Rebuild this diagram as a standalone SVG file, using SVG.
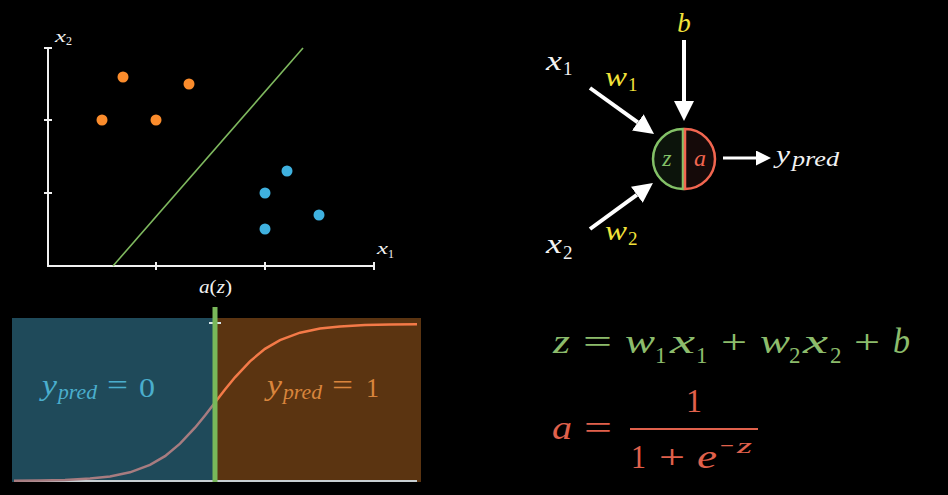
<svg xmlns="http://www.w3.org/2000/svg" width="948" height="495" viewBox="0 0 948 495">
<defs>
<style>
.m{font-family:"Liberation Serif","DejaVu Serif",serif;font-style:italic}
.r{font-family:"Liberation Serif","DejaVu Serif",serif;font-style:normal}
.ax{stroke:#f0f0f0;stroke-width:2;fill:none}
.arr{stroke:#ffffff;stroke-width:4;fill:none;marker-end:url(#ah)}
.org{fill:#fb8c2c}
.blu{fill:#3fb1df}
.yel{fill:#f2e23a}
.wht{fill:#f2f2f2}
</style>
<marker id="ah" viewBox="0 0 10 10" refX="0" refY="5" markerWidth="5" markerHeight="5" orient="auto" markerUnits="strokeWidth">
<path d="M0,0 L10,5 L0,10 z" fill="#ffffff"/>
</marker>
</defs>
<rect width="948" height="495" fill="#000000"/>

<!-- scatter plot -->
<g id="scatter">
<path class="ax" d="M48,48 V266 H374"/>
<path class="ax" d="M44,48 H52 M44,120 H52 M44,193 H52 M156,262 V270 M265,262 V270 M374,262 V270"/>
<text class="m wht" x="55" y="42" font-size="17" textLength="11" lengthAdjust="spacingAndGlyphs">x</text>
<text class="r wht" x="66" y="45" font-size="12">2</text>
<text class="m wht" x="377" y="254" font-size="17" textLength="11" lengthAdjust="spacingAndGlyphs">x</text>
<text class="r wht" x="388" y="258" font-size="12">1</text>
<line x1="113" y1="266" x2="303" y2="48" stroke="#7fb95f" stroke-width="1.6"/>
<circle class="org" cx="123" cy="77" r="5.5"/>
<circle class="org" cx="189" cy="84" r="5.5"/>
<circle class="org" cx="102" cy="120" r="5.5"/>
<circle class="org" cx="156" cy="120" r="5.5"/>
<circle class="blu" cx="287" cy="171" r="5.5"/>
<circle class="blu" cx="265" cy="193" r="5.5"/>
<circle class="blu" cx="319" cy="215" r="5.5"/>
<circle class="blu" cx="265" cy="229" r="5.5"/>
</g>

<!-- sigmoid plot -->
<g id="sigmoid">
<text class="m wht" x="199" y="293" font-size="19" textLength="33" lengthAdjust="spacingAndGlyphs">a<tspan class="r">(</tspan>z<tspan class="r">)</tspan></text>
<rect x="12" y="318" width="203" height="164" fill="#1f4a5a"/>
<rect x="215" y="318" width="206" height="164" fill="#5b3411"/>
<line x1="14" y1="481" x2="417" y2="481" stroke="#c8cfd2" stroke-width="2"/>
<path d="M14,480.8 L40,480.5 L65,479.9 L90,478.6 L110,476.4 L130,472.3 L150,464.9 L165,456.1 L180,443.7 L195,427.7 L205,415.5 L215,402.5" fill="none" stroke="#a77c80" stroke-width="2.5"/>
<path d="M215,402.5 L225,389.5 L235,377.3 L250,361.3 L265,348.9 L280,340.1 L300,332.7 L320,328.6 L340,326.4 L365,325.1 L390,324.5 L417,324.2" fill="none" stroke="#f47a48" stroke-width="2.5"/>
<line x1="209" y1="323" x2="221" y2="323" stroke="#d8e6ea" stroke-width="2"/>
<line x1="215" y1="307" x2="215" y2="482" stroke="#79b85a" stroke-width="5"/>
<g fill="#4aaecd">
<text class="m" x="42" y="395" font-size="29" textLength="15" lengthAdjust="spacingAndGlyphs">y</text>
<text class="m" x="58" y="399" font-size="21" textLength="39" lengthAdjust="spacingAndGlyphs">pred</text>
<text class="r" x="107" y="395" font-size="30" textLength="21" lengthAdjust="spacingAndGlyphs">=</text>
<text class="r" x="139" y="397" font-size="28" textLength="16" lengthAdjust="spacingAndGlyphs">0</text>
</g>
<g fill="#d9853c">
<text class="m" x="267" y="395" font-size="29" textLength="15" lengthAdjust="spacingAndGlyphs">y</text>
<text class="m" x="283" y="399" font-size="21" textLength="39" lengthAdjust="spacingAndGlyphs">pred</text>
<text class="r" x="332" y="395" font-size="30" textLength="21" lengthAdjust="spacingAndGlyphs">=</text>
<text class="r" x="366" y="397" font-size="28" textLength="13" lengthAdjust="spacingAndGlyphs">1</text>
</g>
</g>

<!-- neuron -->
<g id="neuron">
<path d="M683,129 A30,30 0 0 0 683,189 Z" fill="#0c140b" stroke="#83c167" stroke-width="2.5"/>
<path d="M685,129 A30,30 0 0 1 685,189 Z" fill="#150a09" stroke="#f26650" stroke-width="2.5"/>
<text class="m" x="667" y="166" font-size="24" fill="#83c167" text-anchor="middle">z</text>
<text class="m" x="700" y="166" font-size="24" fill="#f26650" text-anchor="middle">a</text>
</g>

<g id="labels">
<text class="m yel" x="684" y="32" font-size="27" text-anchor="middle">b</text>
<text class="m wht" x="546" y="70" font-size="28" textLength="16" lengthAdjust="spacingAndGlyphs">x</text>
<text class="r wht" x="563" y="75" font-size="19">1</text>
<text class="m yel" x="605" y="86" font-size="27" textLength="22" lengthAdjust="spacingAndGlyphs">w</text>
<text class="r yel" x="628" y="91" font-size="19">1</text>
<text class="m wht" x="546" y="253" font-size="28" textLength="16" lengthAdjust="spacingAndGlyphs">x</text>
<text class="r wht" x="563" y="259" font-size="19">2</text>
<text class="m yel" x="605" y="240" font-size="27" textLength="22" lengthAdjust="spacingAndGlyphs">w</text>
<text class="r yel" x="628" y="245" font-size="19">2</text>
<text class="m wht" x="776" y="163" font-size="26" textLength="14" lengthAdjust="spacingAndGlyphs">y</text>
<text class="m wht" x="792" y="166" font-size="20" textLength="47" lengthAdjust="spacingAndGlyphs">pred</text>
</g>

<g id="connectors">
<line class="arr" x1="590" y1="88" x2="637.8" y2="122.3"/>
<line class="arr" x1="684" y1="40" x2="684" y2="101"/>
<line class="arr" x1="590" y1="229" x2="636.8" y2="194.8"/>
<line class="arr" x1="723" y1="158" x2="756" y2="158" style="stroke-width:3"/>
</g>

<!-- formulas -->
<g id="formula-z" fill="#8cbc6c">
<text class="m" x="553" y="353" font-size="34" textLength="17" lengthAdjust="spacingAndGlyphs">z</text>
<text class="r" x="583" y="353" font-size="34" textLength="29" lengthAdjust="spacingAndGlyphs">=</text>
<text class="m" x="625" y="353" font-size="34" textLength="30" lengthAdjust="spacingAndGlyphs">w</text>
<text class="r" x="655" y="363" font-size="23">1</text>
<text class="m" x="670" y="353" font-size="34" textLength="25" lengthAdjust="spacingAndGlyphs">x</text>
<text class="r" x="696" y="363" font-size="23">1</text>
<text class="r" x="721" y="353" font-size="34" textLength="26" lengthAdjust="spacingAndGlyphs">+</text>
<text class="m" x="760" y="353" font-size="34" textLength="30" lengthAdjust="spacingAndGlyphs">w</text>
<text class="r" x="789" y="363" font-size="23">2</text>
<text class="m" x="803" y="353" font-size="34" textLength="25" lengthAdjust="spacingAndGlyphs">x</text>
<text class="r" x="830" y="363" font-size="23">2</text>
<text class="r" x="854" y="353" font-size="34" textLength="26" lengthAdjust="spacingAndGlyphs">+</text>
<text class="m" x="893" y="353" font-size="35" textLength="17" lengthAdjust="spacingAndGlyphs">b</text>
</g>

<g id="formula-a" fill="#e0614c">
<text class="m" x="552" y="439" font-size="34" textLength="20" lengthAdjust="spacingAndGlyphs">a</text>
<text class="r" x="584" y="439" font-size="34" textLength="28" lengthAdjust="spacingAndGlyphs">=</text>
<text class="r" x="686" y="412" font-size="34" textLength="16" lengthAdjust="spacingAndGlyphs">1</text>
<rect x="630" y="428" width="128" height="2"/>
<text class="r" x="631" y="468" font-size="34" textLength="15" lengthAdjust="spacingAndGlyphs">1</text>
<text class="r" x="659" y="468" font-size="34" textLength="26" lengthAdjust="spacingAndGlyphs">+</text>
<text class="m" x="697" y="468" font-size="34" textLength="20" lengthAdjust="spacingAndGlyphs">e</text>
<text class="r" x="720" y="453" font-size="22" textLength="14" lengthAdjust="spacingAndGlyphs">−</text>
<text class="m" x="737" y="453" font-size="22" textLength="15" lengthAdjust="spacingAndGlyphs">z</text>
</g>
</svg>
